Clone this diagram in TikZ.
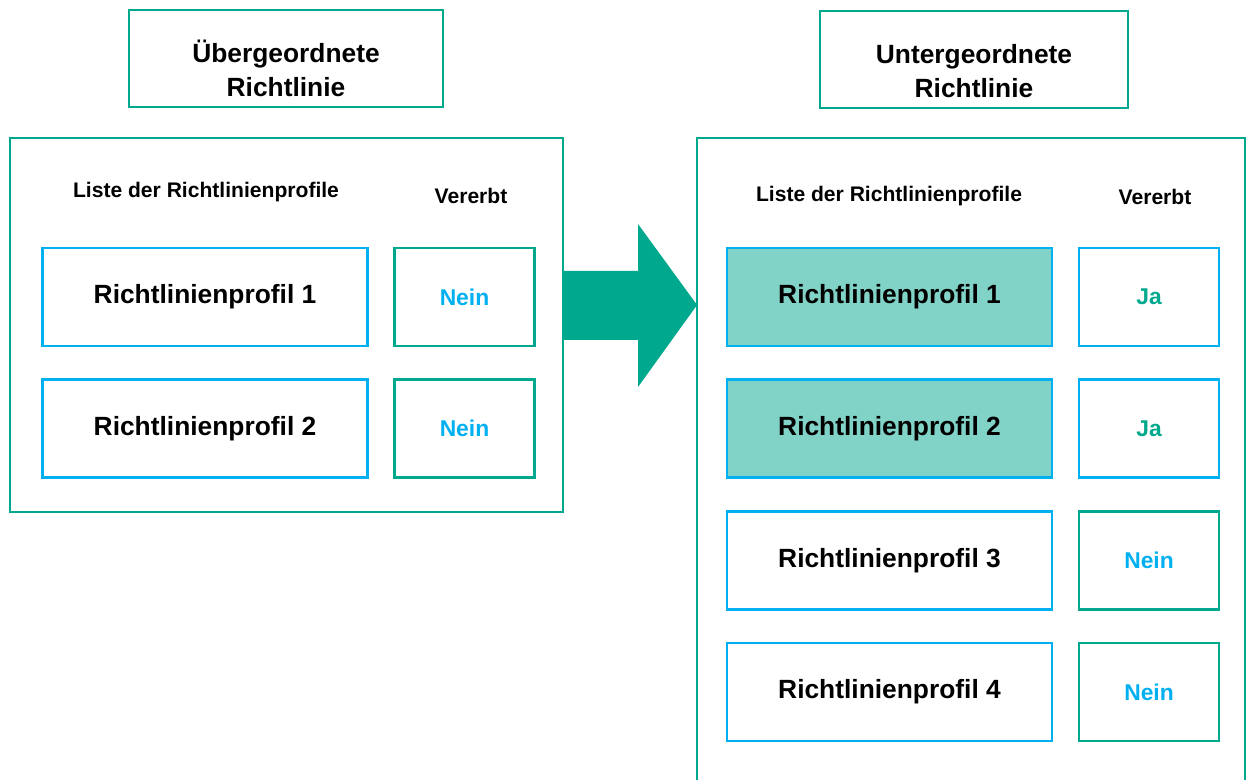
\documentclass[tikz,border=0pt]{standalone}
\usepackage{fontspec}
\setmainfont{Liberation Sans}

\definecolor{kgruen}{HTML}{00A88E}
\definecolor{kblau}{HTML}{00B0F0}
\definecolor{kfuell}{HTML}{80D3C6}

\begin{document}
\begin{tikzpicture}[
    x=0.02cm,
    y=-0.02cm,
    line join=miter,
    rahmen/.style={draw=kgruen, line width=1.6pt, inner sep=0pt, outer sep=0pt},
    titel/.style={
        rahmen,
        minimum height=1.94cm,
        align=center,
        font=\bfseries\fontsize{15}{19}\selectfont
    },
    kopf/.style={font=\bfseries\fontsize{12}{14}\selectfont, inner sep=0pt},
    profil/.style={
        draw=kblau,
        line width=1.6pt,
        minimum width=6.5cm,
        minimum height=1.96cm,
        font=\bfseries\fontsize{15}{18}\selectfont
    },
    geerbt/.style={
        minimum width=2.8cm,
        minimum height=1.96cm,
        line width=1.6pt,
        font=\bfseries\fontsize{13}{15}\selectfont
    },
    nein/.style={geerbt, draw=kgruen, text=kblau},
    ja/.style={geerbt, draw=kblau, text=kgruen}
]

% =========================================================
% Bildausschnitt
% =========================================================

\clip (0,0) rectangle (1247,780);

% =========================================================
% Parameter
% =========================================================

\def\xPL{205}     % Mitte Profilspalte links
\def\xVL{464.5}   % Mitte Vererbt-Spalte links
\def\xPR{889.5}   % Mitte Profilspalte rechts
\def\xVR{1149}    % Mitte Vererbt-Spalte rechts

% Strebe, damit der Titeltext etwas tiefer sitzt
\def\tstrut{\rule{0pt}{24pt}}

% =========================================================
% Überschriften
% =========================================================

\node[titel, minimum width=6.28cm] (ueber) at (286,58.5)
    {\tstrut Übergeordnete\\Richtlinie};

\node[titel, minimum width=6.16cm] (unter) at (974,59.5)
    {\tstrut Untergeordnete\\Richtlinie};

% =========================================================
% Äußere Rahmen
% =========================================================

\node[rahmen, minimum width=11.06cm, minimum height=7.48cm]
    (links) at (286.5,325) {};

\node[rahmen, minimum width=10.96cm, minimum height=13.4cm]
    (rechts) at (971,473) {};

% =========================================================
% Pfeil zwischen den Rahmen
% =========================================================

\coordinate (schaft) at (638,305);
\fill[kgruen]
    (links.east |- 0,271) -- (schaft |- 0,271) -- (schaft |- 0,224)
    -- (rechts.west |- schaft)
    -- (schaft |- 0,387) -- (schaft |- 0,340) -- (links.east |- 0,340)
    -- cycle;

% =========================================================
% Linke Richtlinie
% =========================================================

\node[kopf] (listeL) at (206,192) {Liste der Richtlinienprofile};
\node[kopf] (vererbtL) at (471,196) {Vererbt};

\node[profil] (pL1) at (\xPL,297) {Richtlinienprofil 1};
\node[profil] (pL2) at (\xPL,428.5) {Richtlinienprofil 2};

\node[nein] (vL1) at (\xVL,297) {Nein};
\node[nein] (vL2) at (\xVL,428.5) {Nein};

% =========================================================
% Rechte Richtlinie
% =========================================================

\node[kopf] (listeR) at (889,196) {Liste der Richtlinienprofile};
\node[kopf] (vererbtR) at (1155,197) {Vererbt};

\node[profil, fill=kfuell] (pR1) at (\xPR,297) {Richtlinienprofil 1};
\node[profil, fill=kfuell] (pR2) at (\xPR,428.5) {Richtlinienprofil 2};
\node[profil] (pR3) at (\xPR,560.5) {Richtlinienprofil 3};
\node[profil] (pR4) at (\xPR,692) {Richtlinienprofil 4};

\node[ja] (vR1) at (\xVR,297) {Ja};
\node[ja] (vR2) at (\xVR,428.5) {Ja};
\node[nein] (vR3) at (\xVR,560.5) {Nein};
\node[nein] (vR4) at (\xVR,692) {Nein};

\end{tikzpicture}
\end{document}
